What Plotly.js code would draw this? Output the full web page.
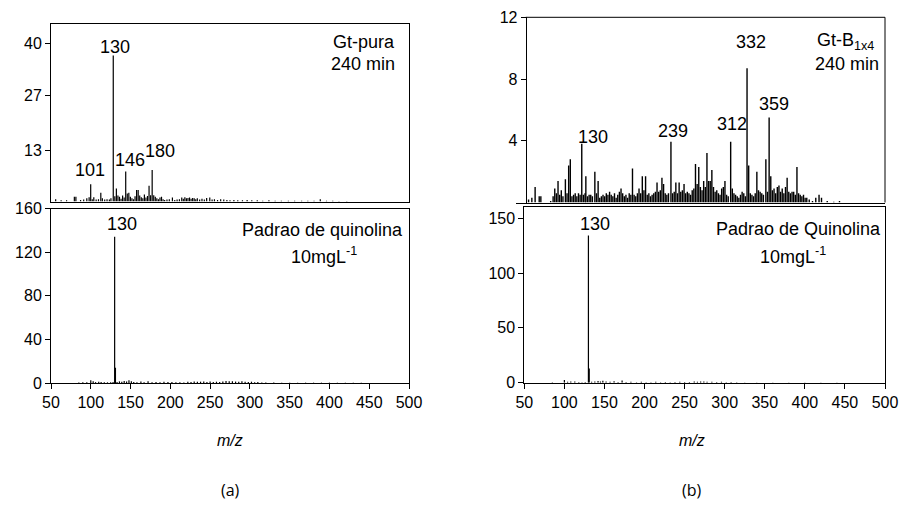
<!DOCTYPE html>
<html>
<head>
<meta charset="utf-8">
<script src="https://cdn.plot.ly/plotly-3.0.1.min.js"></script>
<style>html,body{margin:0;padding:0;background:#fff;}#chart{width:903px;height:506px;}</style>
</head>
<body>
<div id="chart"></div>
<script>
// (a) top: Gt-pura 240 min
var a1_mz  = [56,63,70,80,82,88,92,96,99,101,103,105,108,111,114,116,119,122,125,127,130,132,134,136,138,140,142,144,146,148,150,152,154,156,158,160,162,164,166,168,170,172,174,176,178,180,182,184,186,188,190,192,194,196,199,202,206,209,212,215,218,220,222,224,226,228,230,232,234,236,238,241,244,247,250,254,257,260,264,268,272,276,280,285,290,296,302,308,315,322,330,338,346,355,363,372,380,388,396,404,412,420,430];
var a1_int = [0.6,0.3,0.3,1.2,1.2,0.4,0.5,0.8,1.1,4.4,0.6,1.1,0.5,0.6,2.2,0.8,0.5,0.6,0.5,0.8,37.0,1.3,3.3,1.5,1.2,0.7,1.5,1.0,7.6,2.0,2.2,1.2,0.8,0.6,1.3,2.9,2.9,1.5,1.1,0.8,1.8,1.0,1.4,4.0,1.6,8.0,1.6,1.2,0.8,0.6,1.0,1.2,0.6,0.4,0.5,0.6,1.0,0.4,0.5,0.6,1.0,0.7,1.1,0.8,0.9,1.0,0.7,0.9,0.8,0.6,0.8,0.5,0.7,0.5,0.9,1.0,0.5,0.6,0.4,0.6,0.5,0.4,0.3,0.4,0.3,0.3,0.4,0.3,0.3,0.2,0.3,0.2,0.2,0.2,0.2,0.2,0.2,0.2,0.6,0.2,0.2,0.1,0.1];

// (a) bottom: Padrao de quinolina 10 mg/L
var a2_mz  = [85,90,95,100,103,106,110,113,117,121,125,128,130,131,133,136,139,142,145,148,151,154,158,163,167,172,177,182,187,192,197,202,207,212,217,222,226,230,234,238,242,246,250,254,258,262,266,270,274,278,282,286,290,294,298,302,306,310,315,320,330,340,350,360,370,380,390,400,410,420,430,440];
var a2_int = [0.5,0.6,0.8,2.5,1.5,0.8,1.2,1.0,0.8,0.6,0.7,1.0,134,14,1.0,1.5,1.2,1.8,1.4,2.5,1.5,1.0,0.8,1.3,0.8,1.5,0.6,1.0,0.7,1.2,0.9,1.0,0.6,0.8,0.5,1.2,1.0,1.3,1.1,1.2,1.3,1.0,1.3,0.9,1.2,1.0,1.4,1.8,1.5,1.6,1.3,1.2,1.5,1.1,1.0,1.2,0.8,1.0,0.5,0.4,0.4,0.3,0.3,0.3,0.3,0.3,0.3,0.3,0.3,0.2,0.2,0.2];

// (b) top: Gt-B1x4 240 min
var b1_mz  = [65,69,73,78,80,92,95,97,99,101,103,105,107,110,112,114,116,118,120,122,124,126,128,130,132,134,135,137,139,141,143,146,148,150,152,154,156,158,160,162,164,166,168,170,172,174,176,178,180,182,184,186,188,190,192,194,196,198,200,202,204,206,208,210,212,214,216,218,220,222,224,226,228,230,232,234,236,239,241,243,245,247,249,251,253,255,257,259,261,263,265,267,269,271,273,275,277,279,281,283,285,287,289,291,293,295,297,299,301,303,305,307,309,312,314,316,318,320,322,324,326,328,330,332,334,336,338,340,342,344,346,348,350,352,355,357,359,361,363,365,367,369,371,373,375,377,379,381,383,385,387,389,391,393,395,397,399,401,403,405,408,412,416,420,423,430,438,445];
var b1_int = [0.2,0.3,1.0,0.4,0.4,0.1,0.4,0.9,0.6,1.4,0.5,0.8,0.4,1.5,0.6,2.4,2.8,0.4,0.5,0.6,0.4,0.6,0.5,3.8,0.5,0.6,1.7,0.4,0.5,0.5,0.4,2.0,0.6,1.4,0.3,0.4,0.5,0.4,0.6,0.5,0.7,0.5,0.4,0.6,0.3,0.5,0.7,0.9,0.6,0.4,0.5,0.3,0.6,0.5,2.2,0.5,0.4,0.6,0.9,0.6,1.7,0.8,1.7,0.5,0.6,0.4,0.5,0.6,0.7,1.3,0.7,0.8,1.6,1.2,0.6,0.5,0.6,3.94,0.6,0.7,1.3,0.6,1.3,0.7,0.8,1.2,0.6,0.7,0.6,0.5,0.8,0.9,2.5,1.2,2.3,1.0,0.8,1.4,1.0,3.2,1.4,1.4,2.1,1.0,0.7,0.8,0.6,0.5,0.9,1.0,1.4,0.5,0.4,3.94,0.9,0.6,0.5,0.4,0.3,0.5,0.7,0.6,0.4,8.7,2.4,0.6,0.5,0.4,0.6,2.0,0.8,0.7,0.6,0.5,2.8,0.7,5.5,1.7,0.8,0.9,0.6,1.0,1.1,0.7,0.9,0.6,1.0,1.6,0.7,0.6,0.7,0.7,0.5,2.3,0.6,0.5,0.4,0.5,0.3,0.3,0.2,0.1,0.3,0.5,0.3,0.1,0.05,0.1];

// (b) bottom: Padrao de Quinolina 10 mg/L
var b2_mz  = [85,100,104,108,113,118,122,126,130,131,134,138,142,145,148,152,157,162,167,172,177,183,190,196,202,208,214,220,226,232,238,244,250,256,262,266,270,274,278,284,290,296,302,308,315,325,340,360,380,400,420,440];
var b2_int = [0.3,2.5,0.8,1.2,1.0,0.6,0.5,0.6,134.3,13,0.8,1.2,1.5,1.0,1.8,1.0,0.8,1.3,0.7,2.0,0.6,0.8,0.5,0.9,0.5,0.4,0.8,0.5,0.7,0.5,0.6,0.8,0.7,0.6,1.0,0.9,1.2,1.0,0.8,0.9,0.6,0.8,0.5,0.6,0.3,0.2,0.2,0.2,0.2,0.2,0.2,0.2];

// tick labels
var a1_ticks = [13, 27, 40];
var a2_ticks = [0, 40, 80, 120, 160];
var b1_ticks = [4, 8, 12];
var b2_ticks = [0, 50, 100, 150];
var mz_ticks = [50,100,150,200,250,300,350,400,450,500];

function sticks(mz, inten, xa, ya, w) {
  var x = [], y = [];
  for (var i = 0; i < mz.length; i++) {
    x.push(mz[i], mz[i], null);
    y.push(0, inten[i], null);
  }
  return {x: x, y: y, xaxis: xa, yaxis: ya, type: 'scatter', mode: 'lines',
          line: {color: '#000', width: w}, hoverinfo: 'skip', showlegend: false};
}

var data = [
  sticks(a1_mz, a1_int, 'x', 'y', 1.2),
  sticks(a2_mz, a2_int, 'x2', 'y2', 1.2),
  sticks(b1_mz, b1_int, 'x3', 'y3', 1.4),
  sticks(b2_mz, b2_int, 'x4', 'y4', 1.2)
];

var FONT = 'Liberation Sans, Arial, sans-serif';
var tickFont = {family: FONT, size: 16, color: '#000'};
function ax(extra) {
  var base = {showgrid: false, zeroline: false, showline: true, linecolor: '#000', linewidth: 1,
              tickcolor: '#000', ticklen: 5, tickwidth: 1, tickfont: tickFont, fixedrange: true};
  for (var k in extra) base[k] = extra[k];
  return base;
}
function W(px) { return px / 903; }
function H(py) { return 1 - py / 506; }

var labFont = {family: FONT, size: 18, color: '#000'};
function lab(text, x, y, xr, yr, xanchor) {
  return {text: text, x: x, y: y, xref: xr, yref: yr, showarrow: false,
          xanchor: xanchor || 'center', yanchor: 'middle', font: labFont};
}

var layout = {
  width: 903, height: 506,
  margin: {l: 0, r: 0, t: 0, b: 0},
  paper_bgcolor: '#fff', plot_bgcolor: '#fff',
  showlegend: false,
  xaxis:  ax({domain: [W(51), W(409)], range: [50, 510], anchor: 'y', showticklabels: false, ticks: '', mirror: true}),
  yaxis:  ax({domain: [H(201.5), H(24)], range: [0, 45], anchor: 'x', tickvals: a1_ticks, ticks: 'outside', mirror: true}),
  xaxis2: ax({domain: [W(51), W(409)], range: [50, 500], anchor: 'y2', tickvals: mz_ticks, ticks: 'outside', mirror: true}),
  yaxis2: ax({domain: [H(383), H(208.5)], range: [0, 160], anchor: 'x2', tickvals: a2_ticks, ticks: 'outside', mirror: true}),
  xaxis3: ax({domain: [W(516.3), W(884.5)], range: [50, 500], anchor: 'y3', showticklabels: false, ticks: ''}),
  yaxis3: ax({domain: [H(202.5), H(17.3)], range: [0, 12], anchor: 'free', position: W(525.7), tickvals: b1_ticks, ticks: 'outside'}),
  xaxis4: ax({domain: [W(524.3), W(885)], range: [50, 500], anchor: 'y4', tickvals: mz_ticks, ticks: 'outside', mirror: true}),
  yaxis4: ax({domain: [H(382.7), H(207.3)], range: [0, 160], anchor: 'x4', tickvals: b2_ticks, ticks: 'outside', mirror: true}),
  shapes: [
    {type: 'line', xref: 'paper', yref: 'paper', x0: W(525.7), x1: W(885), y0: H(17.3), y1: H(17.3), line: {color: '#000', width: 1}},
    {type: 'line', xref: 'paper', yref: 'paper', x0: W(885), x1: W(885), y0: H(202.5), y1: H(17.3), line: {color: '#000', width: 1}}
  ],
  annotations: [
    // (a) top
    lab('130', 132.2, 39.2, 'x', 'y'),
    lab('101', 100, 8.0, 'x', 'y'),
    lab('146', 151.5, 10.5, 'x', 'y'),
    lab('180', 190, 12.8, 'x', 'y'),
    lab('Gt-pura', W(397), H(42), 'paper', 'paper', 'right'),
    lab('240 min', W(397), H(64), 'paper', 'paper', 'right'),
    // (a) bottom
    lab('130', 138.9, 145.9, 'x2', 'y2'),
    lab('Padrao de quinolina', W(404.5), H(230), 'paper', 'paper', 'right'),
    lab('10mgL<sup>-1</sup>', W(324), H(256), 'paper', 'paper', 'center'),
    // (b) top
    lab('130', 144.2, 4.26, 'x3', 'y3'),
    lab('239', 241.4, 4.65, 'x3', 'y3'),
    lab('312', 313.6, 5.06, 'x3', 'y3'),
    lab('332', 337.3, 10.4, 'x3', 'y3'),
    lab('359', 364.6, 6.36, 'x3', 'y3'),
    lab('Gt-B<sub>1x4</sub>', W(876), H(42), 'paper', 'paper', 'right'),
    lab('240 min', W(881), H(64.3), 'paper', 'paper', 'right'),
    // (b) bottom
    lab('130', 138.2, 144.9, 'x4', 'y4'),
    lab('Padrao de Quinolina', W(883), H(229.3), 'paper', 'paper', 'right'),
    lab('10mgL<sup>-1</sup>', W(792.5), H(256), 'paper', 'paper', 'center'),
    // axis titles & panel letters
    {text: '<i>m/z</i>', x: W(230), y: H(440), xref: 'paper', yref: 'paper', showarrow: false, xanchor: 'center', yanchor: 'middle', font: {family: FONT, size: 16, color: '#000'}},
    {text: '<i>m/z</i>', x: W(692), y: H(440), xref: 'paper', yref: 'paper', showarrow: false, xanchor: 'center', yanchor: 'middle', font: {family: FONT, size: 16, color: '#000'}},
    {text: '(a)', x: W(230), y: H(490), xref: 'paper', yref: 'paper', showarrow: false, xanchor: 'center', yanchor: 'middle', font: {family: 'Open Sans, Noto Sans, sans-serif', size: 16, color: '#000'}},
    {text: '(b)', x: W(692), y: H(490), xref: 'paper', yref: 'paper', showarrow: false, xanchor: 'center', yanchor: 'middle', font: {family: 'Open Sans, Noto Sans, sans-serif', size: 16, color: '#000'}}
  ]
};

Plotly.newPlot('chart', data, layout, {staticPlot: true, displayModeBar: false});
</script>
</body>
</html>
